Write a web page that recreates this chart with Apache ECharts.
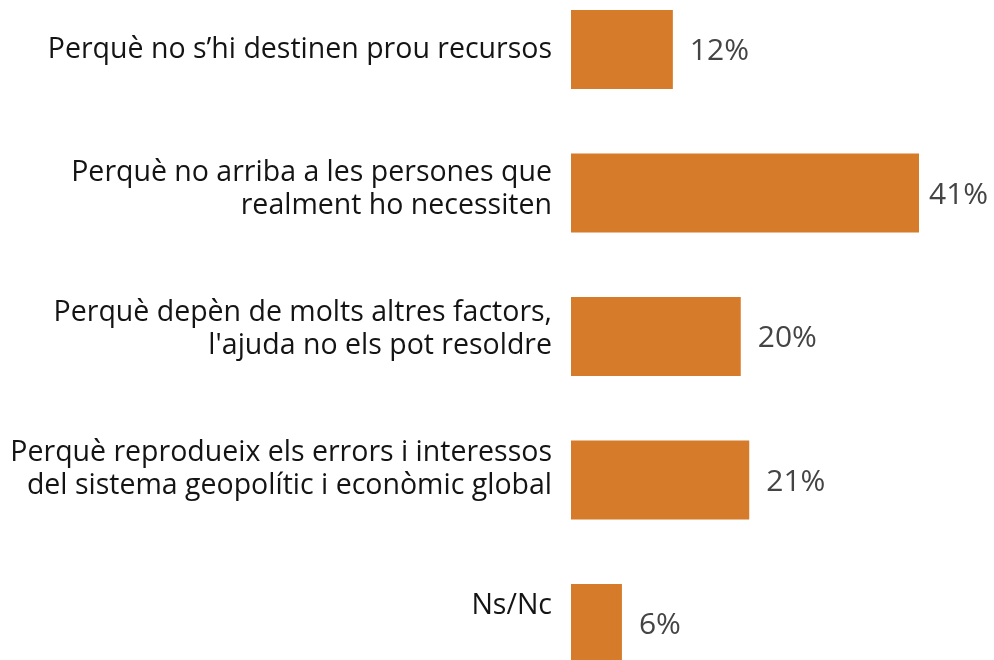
<!DOCTYPE html>
<html>
<head>
<meta charset="utf-8">
<script src="https://cdn.jsdelivr.net/npm/echarts@6/dist/echarts.min.js"></script>
<style>html,body{margin:0;padding:0;background:#fff;}#c{width:994px;height:660px;}</style>
</head>
<body>
<div id="c"></div>
<script>
var categories = [
  "Perquè no s’hi destinen prou recursos",
  "Perquè no arriba a les persones que\nrealment ho necessiten",
  "Perquè depèn de molts altres factors,\nl'ajuda no els pot resoldre",
  "Perquè reprodueix els errors i interessos\ndel sistema geopolític i econòmic global",
  "Ns/Nc"
];
var values = [12, 41, 20, 21, 6];
var labelShift = [0, 4, 7, 11, 18];

var rich = {t: {fontFamily: 'Open Sans', fontSize: 28.5, lineHeight: 33, color: '#141414', align: 'right'}};
labelShift.forEach(function (s, i) {
  rich['g' + i] = {fontSize: 1, lineHeight: Math.max(1, 2 * s), align: 'right'};
});

var chart = echarts.init(document.getElementById('c'), null, {renderer: 'canvas'});
chart.setOption({
  animation: false,
  backgroundColor: '#ffffff',
  grid: {left: 571, width: 348, top: -22.25, height: 717.5, containLabel: false, outerBoundsMode: 'none'},
  xAxis: {type: 'value', min: 0, max: 41, show: false},
  yAxis: {
    type: 'category',
    inverse: true,
    data: categories,
    axisLine: {show: false},
    axisTick: {show: false},
    splitLine: {show: false},
    axisLabel: {
      margin: 19,
      color: '#141414',
      fontFamily: 'Open Sans',
      fontSize: 28.5,
      lineHeight: 33,
      align: 'right',
      formatter: function (value, index) {
        var lines = value.split('\n').map(function (l) { return '{t|' + l + '}'; });
        if (labelShift[index] > 0) lines.push('{g' + index + '| }');
        return lines.join('\n');
      },
      rich: rich
    }
  },
  series: [{
    type: 'bar',
    data: values.map(function (v, i) {
      return i === 1 ? {value: v, label: {distance: 10}} : v;
    }),
    barWidth: 79,
    itemStyle: {color: '#D67B29'},
    label: {
      show: true,
      position: 'right',
      distance: 17,
      offset: [0, 2],
      formatter: '{c}%',
      color: '#444444',
      fontFamily: 'Open Sans',
      fontSize: 30
    }
  }]
});
</script>
</body>
</html>
